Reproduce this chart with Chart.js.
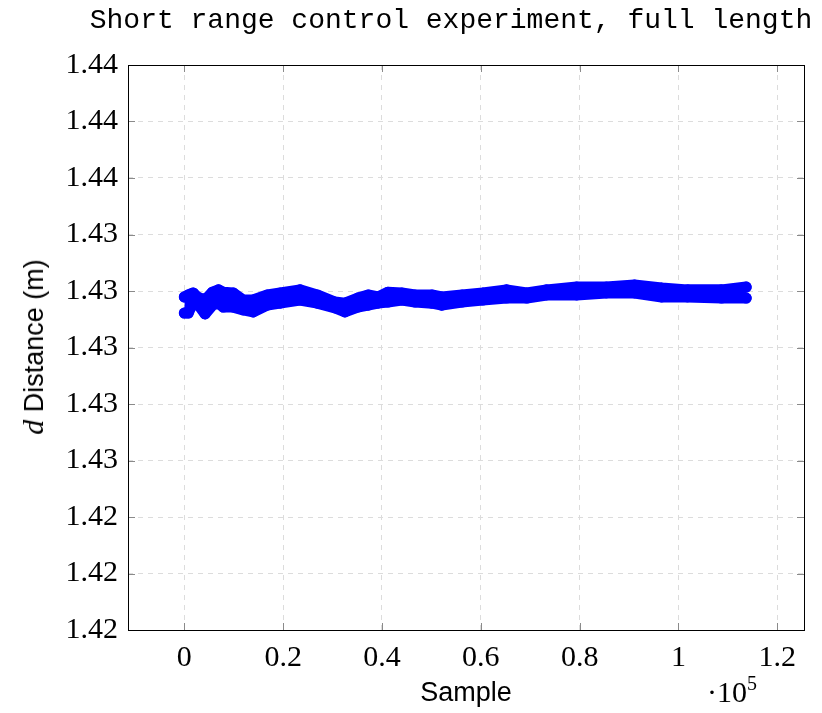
<!DOCTYPE html>
<html>
<head>
<meta charset="utf-8">
<script src="https://cdn.jsdelivr.net/npm/chart.js@4/dist/chart.umd.min.js"></script>
<style>
  html, body { margin:0; padding:0; background:#fff; }
  #wrap { position:relative; width:822px; height:713px; }
  #chart { position:absolute; left:0; top:0; }
  .lbl { position:absolute; white-space:nowrap; color:#000; transform:translate(-50%,-50%); line-height:1; }
  #title { left:451px; top:21px; font-family:'Liberation Mono','DejaVu Sans Mono',monospace; font-size:28px; }
  #xlab { left:466px; top:692px; font-family:'Liberation Sans',Arial,sans-serif; font-size:27px; }
  #ylab { left:33px; top:347px; font-family:'Liberation Sans',Arial,sans-serif; font-size:27px; transform:translate(-50%,-50%) rotate(-90deg); }
  #ylab i { font-family:'Liberation Serif',serif; font-size:30px; }
  #mult { left:732px; top:690px; font-family:'Liberation Serif',serif; font-size:30px; }
  #mult sup { font-size:20px; vertical-align:12px; }
</style>
</head>
<body>
<div id="wrap">
  <canvas id="chart" width="822" height="713"></canvas>
  <div class="lbl" id="title">Short range control experiment, full length</div>
  <div class="lbl" id="xlab">Sample</div>
  <div class="lbl" id="ylab"><i>d</i> Distance (m)</div>
  <div class="lbl" id="mult">&middot;10<sup>5</sup></div>
</div>
<script>
// readings: upper / lower edge of the noisy band at each sample index
const sampleIdx = [0, 800, 1800, 2600, 4200, 5700, 6900, 7900, 9900, 11900,
  13900, 16800, 19400, 23400, 26900, 30500, 32500, 35100, 37200, 39200,
  41200, 44000, 46700, 50100, 52100, 56200, 60400, 65200, 69300, 73300,
  79400, 85400, 91100, 96600, 101800, 108700, 113700];
const distHigh = [1.43179, 1.43186, 1.43193, 1.43179, 1.43168, 1.43196, 1.43204, 1.43196, 1.43193, 1.43168,
  1.43168, 1.43186, 1.43193, 1.43204, 1.43186, 1.43161, 1.43157, 1.43175, 1.43186, 1.43179,
  1.43196, 1.43193, 1.43186, 1.43186, 1.43179, 1.43186, 1.43193, 1.43204, 1.43193, 1.43204,
  1.43214, 1.43214, 1.43221, 1.43211, 1.43204, 1.43204, 1.43214];
const distLow = [1.43122, 1.43122, 1.43161, 1.43157, 1.43119, 1.43150, 1.43157, 1.43143, 1.43143, 1.43133,
  1.43126, 1.43150, 1.43157, 1.43168, 1.43157, 1.43140, 1.43126, 1.43143, 1.43150, 1.43157,
  1.43161, 1.43168, 1.43161, 1.43157, 1.43150, 1.43161, 1.43168, 1.43175, 1.43175, 1.43186,
  1.43186, 1.43193, 1.43193, 1.43179, 1.43179, 1.43175, 1.43175];

const xTicks = [0, 20000, 40000, 60000, 80000, 100000, 120000];
const yTicks = [1.420, 1.422, 1.424, 1.426, 1.428, 1.430, 1.432, 1.434, 1.436, 1.438, 1.440];

const X_MIN = -11400, X_MAX = 125400;
const BLUE = '#0000ff';

const upper = sampleIdx.map((s, i) => ({ x: s, y: distHigh[i] }));
const lower = sampleIdx.map((s, i) => ({ x: s, y: distLow[i] }));

const tickFont = { family: "'Liberation Serif', serif", size: 30 };

const framePlugin = {
  id: 'frame',
  afterDatasetsDraw(chart){
    const { ctx, chartArea: a, scales: { x, y } } = chart;
    ctx.save();
    ctx.strokeStyle = '#8a8a8a';
    ctx.lineWidth = 1;
    ctx.beginPath();
    xTicks.forEach(v => {
      const px = Math.round(x.getPixelForValue(v)) + 0.5;
      ctx.moveTo(px, a.bottom); ctx.lineTo(px, a.bottom - 7);
      ctx.moveTo(px, a.top); ctx.lineTo(px, a.top + 7);
    });
    yTicks.forEach(v => {
      const py = Math.round(y.getPixelForValue(v)) + 0.5;
      ctx.moveTo(a.left, py); ctx.lineTo(a.left + 7, py);
      ctx.moveTo(a.right, py); ctx.lineTo(a.right - 7, py);
    });
    ctx.stroke();
    ctx.strokeStyle = '#000';
    ctx.strokeRect(a.left + 0.5, a.top + 0.5, a.width, a.height);
    ctx.restore();
  }
};

const bandStyle = {
  borderColor: BLUE,
  backgroundColor: BLUE,
  borderWidth: 11,
  borderJoinStyle: 'round',
  borderCapStyle: 'round',
  pointRadius: 5.5,
  pointBorderWidth: 0,
  pointBackgroundColor: BLUE,
  tension: 0
};

new Chart(document.getElementById('chart'), {
  type: 'line',
  data: {
    datasets: [
      Object.assign({ data: upper, fill: '+1' }, bandStyle),
      Object.assign({ data: lower, fill: false }, bandStyle)
    ]
  },
  options: {
    responsive: false,
    animation: false,
    layout: { padding: { left: 0, top: 65, right: 18, bottom: 0 } },
    plugins: { legend: { display: false }, tooltip: { enabled: false } },
    scales: {
      x: {
        type: 'linear',
        min: X_MIN, max: X_MAX,
        afterBuildTicks: s => { s.ticks = xTicks.map(v => ({ value: v })); },
        afterFit: s => { s.height = 83; },
        ticks: {
          color: '#000', font: tickFont, padding: 10, maxRotation: 0,
          callback: v => String(+(v / 1e5).toFixed(1))
        },
        grid: { color: '#dcdcdc', drawTicks: false },
        border: { display: false, dash: [5, 5] }
      },
      y: {
        min: 1.42, max: 1.44,
        afterBuildTicks: s => { s.ticks = yTicks.map(v => ({ value: v })); },
        afterFit: s => { s.width = 128; },
        ticks: {
          color: '#000', font: tickFont, padding: 10,
          callback: v => v.toFixed(2)
        },
        grid: { color: '#dcdcdc', drawTicks: false },
        border: { display: false, dash: [5, 5] }
      }
    }
  },
  plugins: [framePlugin]
});
</script>
</body>
</html>
